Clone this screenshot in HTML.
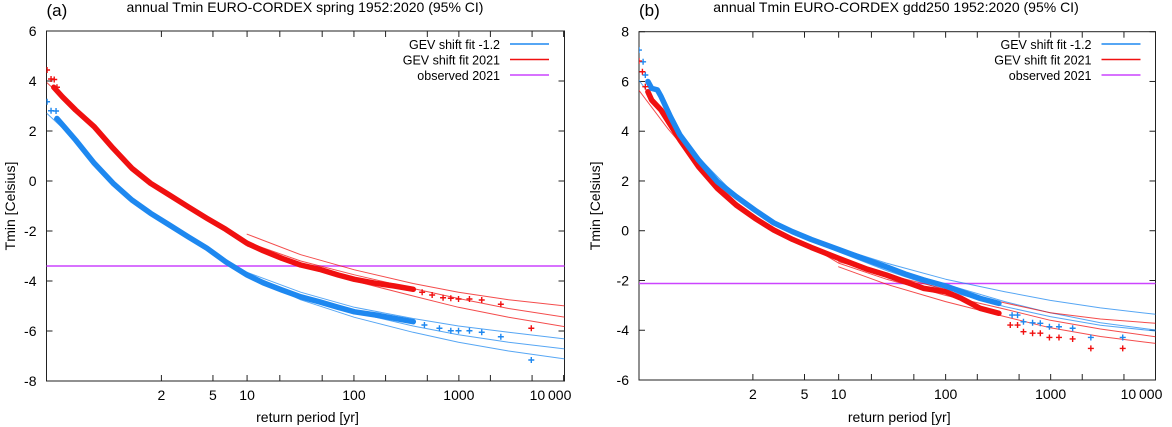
<!DOCTYPE html>
<html><head><meta charset="utf-8"><style>
html,body{margin:0;padding:0;background:#fff;}
svg{display:block;font-family:"Liberation Sans",sans-serif;}
</style></head><body>
<svg id="chart" width="1172" height="427" viewBox="0 0 1172 427" xmlns="http://www.w3.org/2000/svg"></svg>
<script>
// x values are Gumbel reduced variate of return period: -ln(-ln(1-1/T))
const xTickLabels = ["2","5","10","100","1000","10\u2009000"];
const xTickPeriods = [2,5,10,100,1000,10000];
const xMinorPeriods = [20,50,200,500,2000,5000];

// ---- panel (a) ----
const aYTicks = [6,4,2,0,-2,-4,-6,-8];
const aRedObsX = [-2.0,-1.81,-1.52,-1.108,-0.696,-0.283,0.13,0.542,0.955,1.367,1.78,2.25,2.605,3.017,3.43,3.84,4.255,4.61,5.08,5.49,5.905];
const aRedObsY = [3.75,3.37,2.84,2.17,1.31,0.51,-0.09,-0.56,-1.03,-1.49,-1.93,-2.49,-2.79,-3.09,-3.36,-3.53,-3.76,-3.93,-4.09,-4.2,-4.33];
const aRedTailX = [-2.148,-2.06,-1.99,-1.93,6.1,6.32,6.56,6.73,6.9,7.14,7.41,7.83,8.5];
const aRedTailY = [4.44,4.08,4.06,3.75,-4.45,-4.56,-4.67,-4.69,-4.72,-4.72,-4.76,-4.93,-5.89];
const aBlueObsX = [-1.93,-1.77,-1.52,-1.108,-0.696,-0.283,0.13,0.542,0.955,1.367,1.78,2.25,2.605,3.017,3.43,3.84,4.255,4.61,5.08,5.49,5.905];
const aBlueObsY = [2.5,2.17,1.64,0.71,-0.09,-0.76,-1.29,-1.76,-2.23,-2.69,-3.23,-3.76,-4.07,-4.36,-4.63,-4.83,-5.05,-5.23,-5.36,-5.49,-5.63];
const aBlueTailX = [-2.148,-2.06,-1.95,-1.93,6.15,6.48,6.73,6.9,7.14,7.41,7.83,8.5];
const aBlueTailY = [3.17,2.81,2.8,2.48,-5.76,-5.89,-5.99,-5.99,-5.99,-6.05,-6.23,-7.16];
const aFitX = [-2.15,-1.5,-0.7,0.13,0.95,1.78,2.25,3.43,4.61,5.9,6.9,8.0,9.25];
const aBlueFit = [2.7,1.6,-0.1,-1.3,-2.25,-3.2,-3.7,-4.6,-5.25,-5.8,-6.15,-6.45,-6.72];
const aRedFit = [3.93,2.85,1.3,-0.1,-1.05,-1.95,-2.45,-3.2,-3.75,-4.3,-4.7,-5.1,-5.45];
const aCIX = [2.25,3.43,4.61,5.9,6.9,8.0,9.25];
const aBlueUp = [-3.65,-4.45,-5.05,-5.5,-5.8,-6.05,-6.32];
const aBlueLo = [-3.78,-4.75,-5.45,-6.05,-6.45,-6.8,-7.12];
const aRedUp = [-2.13,-2.95,-3.55,-4.1,-4.45,-4.75,-5.0];
const aRedLo = [-2.6,-3.4,-4.0,-4.6,-5.05,-5.45,-5.83];
const aObserved = -3.4;

// ---- panel (b) ----
const bYTicks = [8,6,4,2,0,-2,-4,-6];
const bBlueObsX = [-1.94,-1.855,-1.73,-1.65,-1.443,-1.237,-0.825,-0.413,0.0,0.41,0.824,1.236,1.648,2.25,2.885,3.297,3.709,4.12,4.6,4.946,5.358,5.77];
const bBlueObsY = [6.0,5.72,5.66,5.39,4.58,3.85,2.84,1.97,1.37,0.83,0.32,-0.04,-0.35,-0.75,-1.18,-1.45,-1.74,-1.98,-2.22,-2.45,-2.72,-2.92];
const bBlueTailX = [-2.136,-2.045,-1.996,6.06,6.18,6.31,6.51,6.68,6.88,7.09,7.39,7.79,8.49];
const bBlueTailY = [7.26,6.79,6.26,-3.39,-3.39,-3.66,-3.7,-3.72,-3.86,-3.86,-3.92,-4.29,-4.29];
const bRedObsX = [-1.94,-1.855,-1.65,-1.443,-1.237,-0.825,-0.413,0.0,0.41,0.824,1.236,1.648,2.25,2.885,3.297,3.709,4.12,4.6,4.946,5.358,5.77];
const bRedObsY = [5.59,5.25,4.85,4.25,3.65,2.57,1.7,1.03,0.5,0.03,-0.35,-0.67,-1.11,-1.55,-1.78,-2.05,-2.32,-2.45,-2.72,-3.12,-3.32];
const bRedTailX = [-2.136,-2.06,-1.996,6.02,6.18,6.31,6.51,6.68,6.88,7.09,7.39,7.79,8.49];
const bRedTailY = [6.82,6.39,5.79,-3.79,-3.79,-4.06,-4.12,-4.12,-4.29,-4.29,-4.35,-4.73,-4.73];
const bFitX = [-2.14,-1.5,-0.8,0.0,0.8,1.65,2.25,3.3,4.6,5.9,6.9,8.0,9.21];
const bBlueFit = [6.06,4.5,2.9,1.4,0.35,-0.35,-0.75,-1.45,-2.15,-2.85,-3.3,-3.7,-3.99];
const bRedFit = [5.65,4.1,2.6,1.15,0.1,-0.65,-1.3,-1.95,-2.6,-3.15,-3.6,-3.95,-4.26];
const bBlueCIX = [1.65,2.25,3.3,4.6,5.9,6.9,8.0,9.21];
const bBlueUp = [-0.3,-0.7,-1.3,-1.95,-2.45,-2.8,-3.1,-3.36];
const bBlueLo = [-0.4,-0.85,-1.6,-2.4,-3.05,-3.45,-3.8,-4.03];
const bRedCIX = [2.25,3.3,4.6,5.9,6.9,8.0,9.21];
const bRedUp = [-1.25,-1.75,-2.35,-2.9,-3.3,-3.55,-3.72];
const bRedLo = [-1.45,-2.15,-2.85,-3.45,-3.9,-4.25,-4.53];
const bObserved = -2.12;

const NS = "http://www.w3.org/2000/svg";
const svg = document.getElementById("chart");
const BLUE = "#1e88f0", RED = "#f01010", MAG = "#cc44ff";
function gumbel(T){return -Math.log(-Math.log(1-1/T));}
function mk(tag, attrs, parent){const e=document.createElementNS(NS,tag);for(const k in attrs)e.setAttribute(k,attrs[k]);(parent||svg).appendChild(e);return e;}

function panel(p){
  const g = mk("g",{});
  
  
  const sx = v => p.x0 + (v - p.gmin) / (p.gmax - p.gmin) * (p.x1 - p.x0);
  const sy = v => p.y0 + (p.ymax - v) / (p.ymax - p.ymin) * (p.y1 - p.y0);
  const clip = mk("clipPath",{id:p.id+"-clip"},g);
  mk("rect",{x:p.x0,y:p.y0,width:p.x1-p.x0,height:p.y1-p.y0},clip);
  const frame = mk("rect",{x:p.x0,y:p.y0,width:p.x1-p.x0,height:p.y1-p.y0,fill:"none",stroke:"#222","stroke-width":1},g);
  
  
  p.yTicks.forEach(v=>{
    const y=sy(v);
    mk("line",{x1:p.x0,x2:p.x0+6,y1:y,y2:y,stroke:"#222"},g);
    mk("line",{x1:p.x1-6,x2:p.x1,y1:y,y2:y,stroke:"#222"},g);
    const t=mk("text",{x:p.x0-10,y:y+5,"text-anchor":"end","font-size":14,fill:"#000"},g);
    t.textContent=v;
    
    
  });
  xTickPeriods.forEach((T,i)=>{
    const x=sx(gumbel(T));
    mk("line",{x1:x,x2:x,y1:p.y1,y2:p.y1-6,stroke:"#222"},g);
    mk("line",{x1:x,x2:x,y1:p.y0,y2:p.y0+6,stroke:"#222"},g);
    const t=mk("text",{x:Math.min(x,p.x1-14),y:p.y1+19,"text-anchor":"middle","font-size":14,fill:"#000"},g);
    t.textContent=xTickLabels[i];
    
    
  });
  xMinorPeriods.forEach(T=>{
    const x=sx(gumbel(T));
    mk("line",{x1:x,x2:x,y1:p.y1,y2:p.y1-6,stroke:"#222"},g);
    mk("line",{x1:x,x2:x,y1:p.y0,y2:p.y0+6,stroke:"#222"},g);
  });
  const cg = mk("g",{"clip-path":"url(#"+p.id+"-clip)"},g);
  const line=(xs,ys,col,w,name)=>{
    const pts=xs.map((x,i)=>sx(x).toFixed(1)+","+sy(ys[i]).toFixed(1)).join(" ");
    const e=mk("polyline",{points:pts,fill:"none",stroke:col,"stroke-width":w,"stroke-opacity":w<2?0.75:1,"stroke-linejoin":"round","stroke-linecap":"round"},cg);
    
    
  };
  const marks=(xs,ys,col,name)=>{
    xs.forEach((x,i)=>{
      const cx=sx(x), cy=sy(ys[i]);
      const e=mk("path",{d:`M${cx-3},${cy}H${cx+3}M${cx},${cy-3}V${cy+3}`,stroke:col,"stroke-width":1.4},cg);
      
      
    });
  };
  const oy=sy(p.observed);
  const ol=mk("line",{x1:p.x0,x2:p.x1,y1:oy,y2:oy,stroke:MAG,"stroke-width":1.5},cg);
  
  
  p.draw(line,marks);
  const leg=[["GEV shift fit -1.2",BLUE],["GEV shift fit 2021",RED],["observed 2021",MAG]];
  leg.forEach((l,i)=>{
    const y=44+i*15.5;
    const t=mk("text",{x:p.legX,y:y+5,"text-anchor":"end","font-size":12.5,fill:"#000"},g);
    t.textContent=l[0];
    
    
    mk("line",{x1:p.legX+10,x2:p.legX+49,y1:y,y2:y,stroke:l[1],"stroke-width":1.5},g);
  });
  const title=mk("text",{x:p.titleX,y:12,"text-anchor":"middle","font-size":14,fill:"#000"},g);
  title.textContent=p.title;
  
  
  const lab=mk("text",{x:p.x0,y:16,"font-size":17,fill:"#000"},g);
  lab.textContent=p.label;
  
  
  const xl=mk("text",{x:(p.x0+p.x1)/2+2,y:422,"text-anchor":"middle","font-size":14,fill:"#000"},g);
  xl.textContent="return period [yr]";
  
  
  const yc=(p.y0+p.y1)/2;
  const yl=mk("text",{x:p.ylx,y:yc,"text-anchor":"middle","font-size":14,fill:"#000",transform:`rotate(-90 ${p.ylx} ${yc})`},g);
  yl.textContent="Tmin [Celsius]";
  
  
}

panel({id:"panel-a",label:"(a)",title:"annual  Tmin EURO-CORDEX spring 1952:2020 (95% CI)",titleX:305,
  x0:46.5,x1:564.5,y0:31,y1:381,gmin:-2.16,gmax:9.23,ymin:-8,ymax:6,yTicks:aYTicks,observed:aObserved,legX:500,ylx:15,
  draw:(line,marks)=>{
    line(aFitX,aBlueFit,BLUE,1,"blue-fit");
    line(aCIX,aBlueUp,BLUE,1,"blue-ci-upper");
    line(aCIX,aBlueLo,BLUE,1,"blue-ci-lower");
    line(aCIX,aRedUp,RED,1,"red-ci-upper");
    line(aCIX,aRedLo,RED,1,"red-ci-lower");
    line(aFitX,aRedFit,RED,1,"red-fit");
    line(aBlueObsX,aBlueObsY,BLUE,5.5,"blue-observations");
    line(aRedObsX,aRedObsY,RED,5.5,"red-observations");
    marks(aBlueTailX,aBlueTailY,BLUE,"blue-point");
    marks(aRedTailX,aRedTailY,RED,"red-point");
  }});
panel({id:"panel-b",label:"(b)",title:"annual  Tmin EURO-CORDEX gdd250 1952:2020 (95% CI)",titleX:896,
  x0:639,x1:1155.5,y0:31.7,y1:380,gmin:-2.135,gmax:9.21,ymin:-6,ymax:8,yTicks:bYTicks,observed:bObserved,legX:1091.5,ylx:600,
  draw:(line,marks)=>{
    line(bFitX,bBlueFit,BLUE,1,"blue-fit");
    line(bBlueCIX,bBlueUp,BLUE,1,"blue-ci-upper");
    line(bBlueCIX,bBlueLo,BLUE,1,"blue-ci-lower");
    line(bFitX,bRedFit,RED,1,"red-fit");
    line(bRedCIX,bRedUp,RED,1,"red-ci-upper");
    line(bRedCIX,bRedLo,RED,1,"red-ci-lower");
    line(bRedObsX,bRedObsY,RED,5.5,"red-observations");
    line(bBlueObsX,bBlueObsY,BLUE,5.5,"blue-observations");
    marks(bBlueTailX,bBlueTailY,BLUE,"blue-point");
    marks(bRedTailX,bRedTailY,RED,"red-point");
  }});
</script>
</body></html>
